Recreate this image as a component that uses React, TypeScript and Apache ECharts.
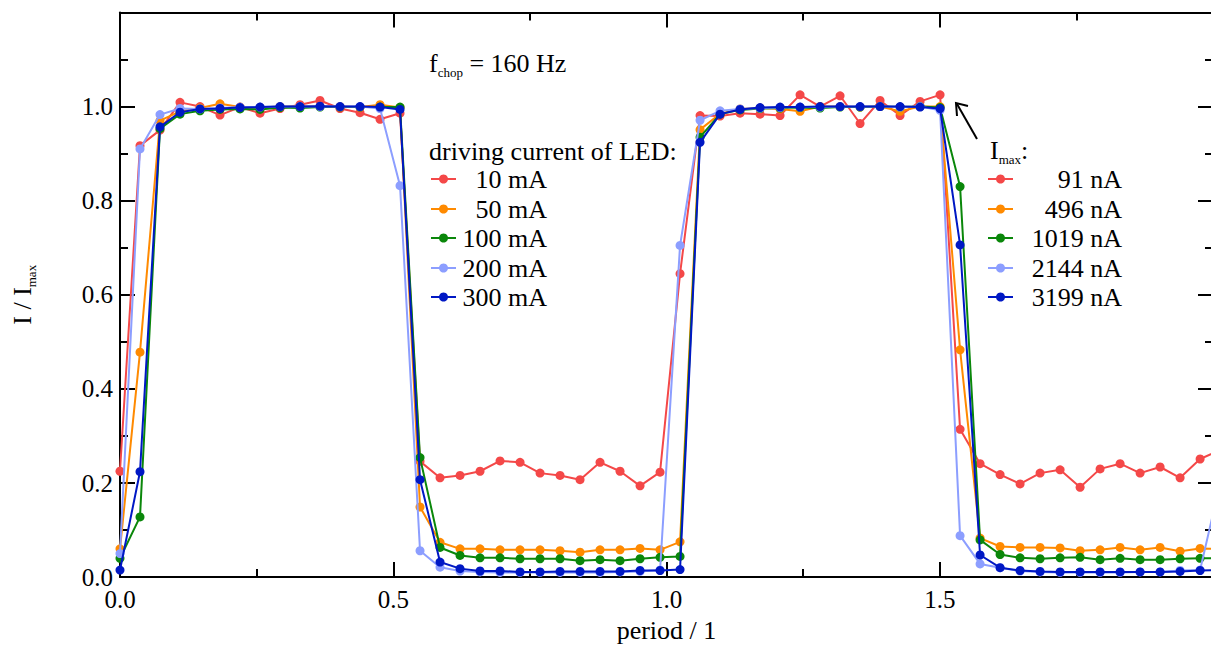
import React, { useEffect, useRef } from "react";
import * as echarts from "echarts";

// sample positions (period units) and normalized signals I / Imax
const periods = [
  0, 0.0366, 0.0732, 0.1098, 0.1464, 0.183, 0.2196, 0.2562, 0.2928, 0.3294,
  0.366, 0.4026, 0.4392, 0.4758, 0.5124, 0.549, 0.5856, 0.6222, 0.6588, 0.6954,
  0.732, 0.7686, 0.8052, 0.8418, 0.8784, 0.915, 0.9516, 0.9882, 1.0248, 1.0614,
  1.098, 1.1346, 1.1712, 1.2078, 1.2444, 1.281, 1.3176, 1.3542, 1.3908, 1.4274,
  1.464, 1.5006, 1.5372, 1.5738, 1.6104, 1.647, 1.6836, 1.7202, 1.7568, 1.7934,
  1.83, 1.8666, 1.9032, 1.9398, 1.9764, 2.013,
];

const current10mA = [
  0.225, 0.917, 0.95, 1.009, 1.0, 0.982, 0.999, 0.986, 0.996, 1.004,
  1.013, 0.996, 0.987, 0.973, 0.986, 0.246, 0.211, 0.216, 0.225, 0.247,
  0.244, 0.221, 0.216, 0.207, 0.244, 0.225, 0.194, 0.223, 0.645, 0.981,
  0.98, 0.986, 0.984, 0.981, 1.025, 1.0, 1.023, 0.964, 1.013, 0.981,
  1.011, 1.025, 0.314, 0.241, 0.218, 0.198, 0.221, 0.228, 0.191, 0.23,
  0.241, 0.221, 0.234, 0.211, 0.251, 0.27,
];

const current50mA = [
  0.06, 0.478, 0.97, 0.99, 0.997, 1.006, 0.999, 0.998, 1.0, 1.0,
  1.0, 1.0, 0.999, 1.004, 0.998, 0.149, 0.074, 0.06, 0.06, 0.058,
  0.058, 0.058, 0.056, 0.053, 0.058, 0.058, 0.061, 0.058, 0.075, 0.951,
  0.985, 0.995, 0.997, 0.995, 0.99, 1.0, 1.0, 0.999, 1.0, 0.99,
  1.0, 1.0, 0.483, 0.083, 0.065, 0.063, 0.063, 0.062, 0.056, 0.058,
  0.063, 0.058, 0.063, 0.055, 0.061, 0.06,
];

const current100mA = [
  0.04, 0.128, 0.953, 0.984, 0.991, 0.994, 0.995, 0.994, 0.998, 0.997,
  0.999, 0.999, 0.999, 0.999, 0.999, 0.254, 0.063, 0.046, 0.041, 0.041,
  0.039, 0.039, 0.039, 0.035, 0.037, 0.035, 0.039, 0.042, 0.044, 0.935,
  0.984, 0.993, 0.996, 0.997, 0.998, 0.997, 0.999, 0.999, 1.0, 0.999,
  1.0, 0.998, 0.83, 0.079, 0.048, 0.041, 0.039, 0.041, 0.042, 0.037,
  0.04, 0.037, 0.037, 0.039, 0.04, 0.04,
];

const current200mA = [
  0.05, 0.91, 0.983, 0.996, 0.995, 0.997, 0.999, 0.999, 1.0, 1.0,
  1.0, 1.0, 1.0, 0.996, 0.832, 0.056, 0.021, 0.013, 0.011, 0.01,
  0.01, 0.01, 0.01, 0.01, 0.01, 0.011, 0.012, 0.015, 0.705, 0.971,
  0.991, 0.995, 0.997, 0.998, 0.999, 0.999, 1.0, 1.0, 1.0, 0.999,
  1.0, 0.992, 0.088, 0.028, 0.02, 0.013, 0.011, 0.01, 0.01, 0.01,
  0.01, 0.011, 0.011, 0.014, 0.015, 0.2,
];

const current300mA = [
  0.015, 0.224, 0.957, 0.988, 0.995, 0.996, 0.998, 0.999, 1.0, 1.0,
  1.001, 1.0, 1.0, 0.999, 0.994, 0.207, 0.032, 0.018, 0.013, 0.013,
  0.011, 0.011, 0.012, 0.012, 0.012, 0.012, 0.014, 0.014, 0.016, 0.924,
  0.984, 0.994, 0.998, 0.999, 0.999, 1.0, 1.0, 1.0, 1.0, 1.0,
  0.999, 0.996, 0.706, 0.047, 0.02, 0.014, 0.012, 0.011, 0.011, 0.011,
  0.011, 0.011, 0.011, 0.012, 0.014, 0.015,
];

const seriesValues = [current10mA, current50mA, current100mA, current200mA, current300mA];
const currentLabels = ["10 mA", "50 mA", "100 mA", "200 mA", "300 mA"];
const imaxLabels = ["91 nA", "496 nA", "1019 nA", "2144 nA", "3199 nA"];
const colors = ["#f44848", "#ff8a00", "#0a870a", "#8c9eff", "#0018c4"];

const xTickLabels = ["0.0", "0.5", "1.0", "1.5"];

const FONT = '"Liberation Serif", "Times New Roman", serif';

export default function App() {
  const ref = useRef<HTMLDivElement>(null);

  useEffect(() => {
    if (!ref.current) return;
    const chart = echarts.init(ref.current, null, { renderer: "svg" });

    const axisCommon = {
      type: "value",
      axisLine: { show: true, onZero: false, lineStyle: { color: "#000", width: 2 } },
      axisTick: { show: true, inside: true, length: 15, lineStyle: { color: "#000", width: 2 } },
      minorTick: { show: true, splitNumber: 2, length: 8, lineStyle: { color: "#000", width: 2 } },
      splitLine: { show: false },
      minorSplitLine: { show: false },
    };

    const legendRows = [179, 209, 238, 268, 297];
    const graphics: any[] = [];
    // f_chop annotation
    graphics.push({
      type: "text",
      x: 429,
      y: 63,
      style: {
        text: "{a|f}{b|chop}{a| = 160 Hz}",
        align: "left",
        textAlign: "left",
        verticalAlign: "middle",
        textVerticalAlign: "middle",
        rich: {
          a: { fontSize: 26, fontFamily: FONT, lineHeight: 32, fill: "#000" },
          b: { fontSize: 13, fontFamily: FONT, verticalAlign: "bottom", fill: "#000" },
        },
      },
    });
    graphics.push({
      type: "text",
      x: 429,
      y: 151,
      style: {
        text: "driving current of LED:",
        font: `26px ${FONT}`,
        fill: "#000",
        align: "left",
        textAlign: "left",
        verticalAlign: "middle",
        textVerticalAlign: "middle",
      },
    });
    graphics.push({
      type: "text",
      x: 990,
      y: 150,
      style: {
        text: "{a|I}{b|max}{a|:}",
        align: "left",
        textAlign: "left",
        verticalAlign: "middle",
        textVerticalAlign: "middle",
        rich: {
          a: { fontSize: 26, fontFamily: FONT, lineHeight: 32, fill: "#000" },
          b: { fontSize: 13, fontFamily: FONT, verticalAlign: "bottom", fill: "#000" },
        },
      },
    });
    // arrow
    graphics.push({
      type: "line",
      shape: { x1: 977, y1: 139, x2: 957, y2: 104 },
      style: { stroke: "#000", lineWidth: 2 },
    });
    graphics.push({
      type: "polyline",
      shape: { points: [[957, 116], [956, 103], [968, 106]] },
      style: { stroke: "#000", lineWidth: 2, fill: null },
    });

    const addLegend = (labels: string[], x0: number, textRight: number) => {
      labels.forEach((lab, i) => {
        const y = legendRows[i];
        graphics.push({
          type: "line",
          shape: { x1: x0, y1: y, x2: x0 + 25, y2: y },
          style: { stroke: colors[i], lineWidth: 2 },
        });
        graphics.push({
          type: "circle",
          shape: { cx: x0 + 12.5, cy: y, r: 4.5 },
          style: { fill: colors[i] },
        });
        graphics.push({
          type: "text",
          x: textRight,
          y: y,
          style: {
            text: lab,
            font: `26px ${FONT}`,
            fill: "#000",
            align: "right",
            textAlign: "right",
            verticalAlign: "middle",
            textVerticalAlign: "middle",
          },
        });
      });
    };
    addLegend(currentLabels, 431, 547);
    addLegend(imaxLabels, 988, 1122);

    const option: any = {
      animation: false,
      backgroundColor: "#fff",
      grid: { left: 120, top: 12.5, right: 3, bottom: 69, containLabel: false },
      xAxis: [
        {
          ...axisCommon,
          min: 0,
          max: 2,
          interval: 0.5,
          position: "bottom",
          name: "period / 1",
          nameLocation: "middle",
          nameGap: 39,
          nameTextStyle: { fontFamily: FONT, fontSize: 26, color: "#000" },
          axisLabel: {
            show: true,
            fontFamily: FONT,
            fontSize: 25,
            color: "#000",
            margin: 10,
            showMaxLabel: false,
            formatter: (v: number) => xTickLabels[Math.round(v / 0.5)] ?? "",
          },
        },
        {
          ...axisCommon,
          min: 0,
          max: 2,
          interval: 0.5,
          position: "top",
          axisLabel: { show: false },
        },
      ],
      yAxis: [
        {
          ...axisCommon,
          min: 0,
          max: 1.2,
          interval: 0.2,
          position: "left",
          name: "{a|I / I}{b|max}",
          nameLocation: "middle",
          nameRotate: 90,
          nameGap: 82,
          nameTextStyle: {
            rich: {
              a: { fontSize: 26, fontFamily: FONT, lineHeight: 32, color: "#000" },
              b: { fontSize: 13, fontFamily: FONT, verticalAlign: "bottom", color: "#000" },
            },
          },
          axisLabel: {
            show: true,
            fontFamily: FONT,
            fontSize: 25,
            color: "#000",
            margin: 7,
            showMaxLabel: false,
            formatter: (v: number) => v.toFixed(1),
          },
        },
        {
          ...axisCommon,
          min: 0,
          max: 1.2,
          interval: 0.2,
          position: "right",
          axisLabel: { show: false },
        },
      ],
      series: seriesValues.map((vals, i) => ({
        name: currentLabels[i],
        type: "line",
        xAxisIndex: 0,
        yAxisIndex: 0,
        data: periods.map((p, k) => [p, vals[k]]),
        symbol: "circle",
        symbolSize: 9,
        showSymbol: true,
        clip: true,
        color: colors[i],
        lineStyle: { color: colors[i], width: 2 },
        itemStyle: { color: colors[i] },
        z: 2 + i,
      })),
      graphic: graphics,
    };

    chart.setOption(option);
    return () => chart.dispose();
  }, []);

  return (
    <div
      style={{
        position: "fixed",
        left: 0,
        top: 0,
        width: 1211,
        height: 648,
        overflow: "hidden",
        background: "#fff",
      }}
    >
      <div ref={ref} style={{ width: 1216, height: 648 }} />
    </div>
  );
}
